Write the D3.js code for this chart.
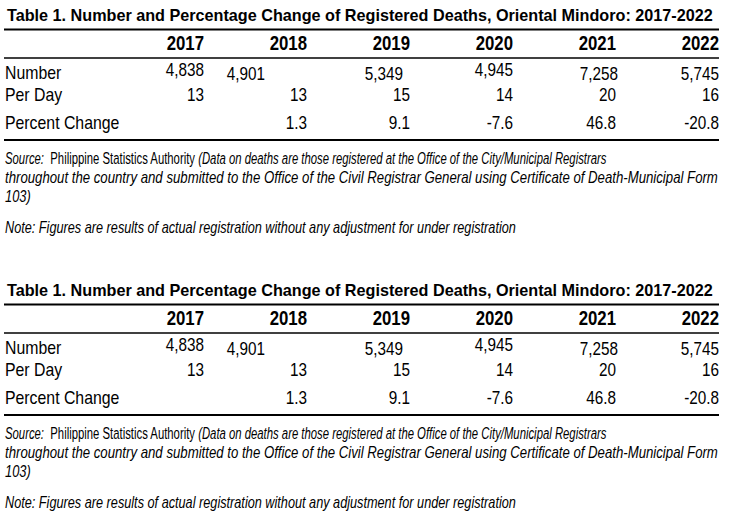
<!DOCTYPE html>
<html><head><meta charset="utf-8">
<script src="https://cdn.jsdelivr.net/npm/d3@7"></script>
<style>body{margin:0;background:#fff}svg{display:block}</style></head>
<body>
<svg id="c" width="730" height="513"></svg>
<script>
// ---- data ----
const titleText = "Table 1. Number and Percentage Change of Registered Deaths, Oriental Mindoro: 2017-2022";
const years = ["2017", "2018", "2019", "2020", "2021", "2022"];
const rowLabels = ["Number", "Per Day", "Percent Change"];
const numberValues = [4838, 4901, 5349, 4945, 7258, 5745];
const perDayValues = [13, 13, 15, 14, 20, 16];
const percentChangeValues = [null, 1.3, 9.1, -7.6, 46.8, -20.8];
const sourceLine1 = [["Source:", "italic"], ["  Philippine Statistics Authority ", "normal"], ["(Data on deaths are those registered at the Office of the City/Municipal Registrars", "italic"]];
const sourceLine2 = "throughout the country and submitted to the Office of the Civil Registrar General using Certificate of Death-Municipal Form";
const sourceLine3 = "103)";
const noteText = "Note: Figures are results of actual registration without any adjustment for under registration";

// ---- layout (not data) ----
const FONT = '"Liberation Sans Narrow","Arial Narrow","Liberation Sans",Arial,sans-serif';
const numberNudge = [[0, -3], [-42, 1], [-7, 1], [0, -3], [2, 1], [0, 1]];
const tableOffsets = [0, 275];

const svg = d3.select("#c");
svg.append("rect").attr("width", 730).attr("height", 513).attr("fill", "#fff");

const x = d3.scalePoint().domain(years).range([204, 719]);
const rowY = d3.scaleOrdinal().domain(rowLabels).range([79, 101, 129]);
const loc = d3.formatLocale({decimal: ".", thousands: ",", grouping: [3], currency: ["", ""], minus: "-"});
const fmtNum = loc.format(",");
const fmtPct = loc.format(".1f");

function fit(node, w) {
  const len = node.getComputedTextLength();
  if (len > 0) {
    const x0 = +node.getAttribute("x");
    node.setAttribute("transform", `translate(${x0},0) scale(${w / len},1) translate(${-x0},0)`);
  }
}
function squeeze(sel, k) {
  sel.each(function () {
    const x0 = +this.getAttribute("x");
    this.setAttribute("transform", `translate(${x0},0) scale(${k},1) translate(${-x0},0)`);
  });
}

function drawTable(oy) {
  const g = svg.append("g").attr("transform", `translate(0,${oy})`)
    .style("font-family", FONT).attr("fill", "#000");

  const t = g.append("text").attr("x", 7).attr("y", 21)
    .attr("font-weight", "bold").attr("font-size", 17).text(titleText);
  fit(t.node(), 706);

  g.append("line").attr("x1", 4).attr("x2", 719).attr("y1", 29.5).attr("y2", 29.5)
    .attr("stroke", "#000").attr("stroke-width", 2.2);
  g.append("line").attr("x1", 4).attr("x2", 719).attr("y1", 58).attr("y2", 58)
    .attr("stroke", "#000").attr("stroke-width", 1.3);
  g.append("line").attr("x1", 4).attr("x2", 719).attr("y1", 140).attr("y2", 140)
    .attr("stroke", "#000").attr("stroke-width", 2.2);

  g.selectAll("text.year").data(years).join("text").attr("class", "year")
    .attr("x", d => x(d)).attr("y", 50).attr("text-anchor", "end")
    .attr("font-weight", "bold").attr("font-size", 20).text(d => d)
    .call(squeeze, 0.84);

  g.selectAll("text.rl").data(rowLabels).join("text").attr("class", "rl")
    .attr("x", 5).attr("y", d => rowY(d)).attr("font-size", 18).text(d => d)
    .call(squeeze, 0.88);

  g.selectAll("text.num").data(numberValues).join("text").attr("class", "num")
    .attr("x", (d, i) => x(years[i]) + numberNudge[i][0])
    .attr("y", (d, i) => rowY("Number") + numberNudge[i][1])
    .attr("text-anchor", "end").attr("font-size", 18).text(d => fmtNum(d))
    .call(squeeze, 0.85);

  g.selectAll("text.pd").data(perDayValues).join("text").attr("class", "pd")
    .attr("x", (d, i) => x(years[i])).attr("y", rowY("Per Day"))
    .attr("text-anchor", "end").attr("font-size", 18).text(d => d)
    .call(squeeze, 0.85);

  g.selectAll("text.pc").data(percentChangeValues).join("text").attr("class", "pc")
    .attr("x", (d, i) => x(years[i])).attr("y", rowY("Percent Change"))
    .attr("text-anchor", "end").attr("font-size", 18)
    .text(d => d == null ? "" : fmtPct(d))
    .call(squeeze, 0.85);

  const fs = 16.5;
  const s1 = g.append("text").attr("x", 5).attr("y", 164).attr("font-size", fs).attr("xml:space", "preserve");
  sourceLine1.forEach(([txt, st]) => s1.append("tspan").attr("font-style", st).text(txt));
  fit(s1.node(), 602);
  const s2 = g.append("text").attr("x", 5).attr("y", 183).attr("font-size", fs)
    .attr("font-style", "italic").text(sourceLine2);
  fit(s2.node(), 713);
  g.append("text").attr("x", 5).attr("y", 202).attr("font-size", fs)
    .attr("font-style", "italic").text(sourceLine3).call(squeeze, 0.78);
  const n = g.append("text").attr("x", 5).attr("y", 233).attr("font-size", fs)
    .attr("font-style", "italic").text(noteText);
  fit(n.node(), 511);
}

tableOffsets.forEach(drawTable);
</script>
</body></html>
